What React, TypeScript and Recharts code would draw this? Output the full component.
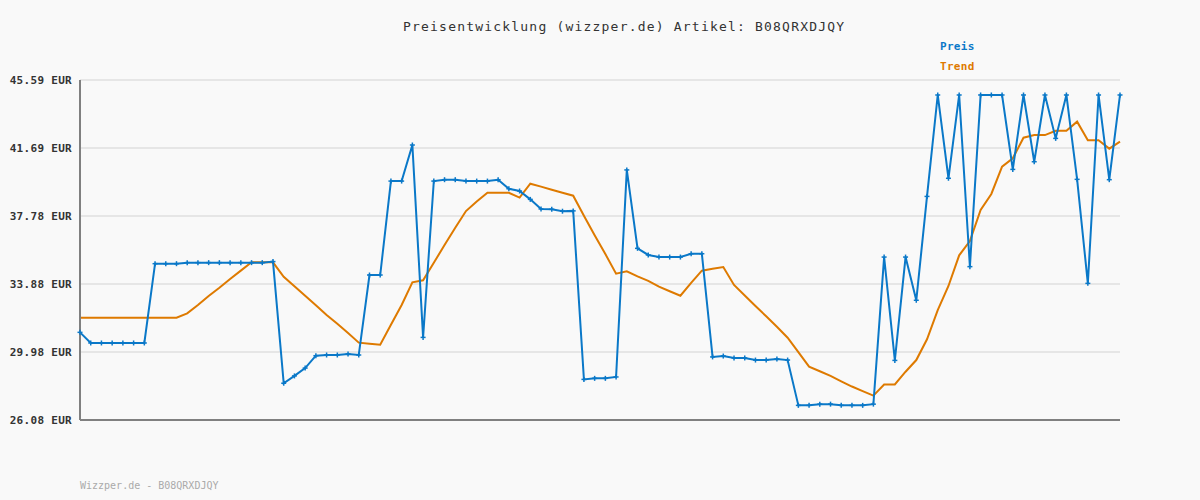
import { CartesianGrid, Line, LineChart, XAxis, YAxis } from "recharts"

const preis = [
  31.11, 30.5, 30.5, 30.5, 30.5, 30.5, 30.5, 35.05, 35.05, 35.05,
  35.11, 35.11, 35.11, 35.11, 35.11, 35.11, 35.11, 35.11, 35.17, 28.19,
  28.61, 29.06, 29.77, 29.81, 29.81, 29.87, 29.81, 34.4, 34.4, 39.79,
  39.79, 41.86, 30.82, 39.79, 39.87, 39.87, 39.79, 39.79, 39.79, 39.87,
  39.35, 39.22, 38.74, 38.19, 38.17, 38.06, 38.08, 28.41, 28.47, 28.47,
  28.55, 40.43, 35.93, 35.55, 35.43, 35.43, 35.43, 35.62, 35.62, 29.7,
  29.75, 29.64, 29.64, 29.52, 29.52, 29.58, 29.52, 26.92, 26.92, 26.99,
  26.99, 26.92, 26.92, 26.92, 26.99, 35.43, 29.5, 35.43, 32.95, 38.91,
  44.73, 39.95, 44.73, 34.88, 44.73, 44.73, 44.73, 40.46, 44.73, 40.9,
  44.73, 42.24, 44.73, 39.89, 33.92, 44.73, 39.87, 44.73,
]

const trend = [
  31.95, 31.95, 31.95, 31.95, 31.95, 31.95, 31.95, 31.95, 31.95, 31.95,
  32.2, 32.68, 33.2, 33.67, 34.17, 34.65, 35.13, 35.13, 35.13, 34.3,
  33.75, 33.21, 32.66, 32.11, 31.6, 31.07, 30.52, 30.46, 30.4, 31.55,
  32.68, 33.98, 34.1, 35.1, 36.12, 37.11, 38.07, 38.62, 39.12, 39.12,
  39.12, 38.84, 39.64, 39.47, 39.29, 39.12, 38.95, 37.8, 36.68, 35.6,
  34.48, 34.61, 34.32, 34.06, 33.73, 33.47, 33.21, 33.95, 34.65, 34.76,
  34.86, 33.83, 33.22, 32.62, 32.03, 31.43, 30.8, 29.97, 29.14, 28.88,
  28.61, 28.3, 28.0, 27.74, 27.48, 28.12, 28.12, 28.85, 29.52, 30.71,
  32.39, 33.77, 35.53, 36.35, 38.13, 39.05, 40.62, 41.1, 42.28, 42.43,
  42.43, 42.68, 42.68, 43.2, 42.13, 42.13, 41.65, 42.05,
]

const yTicks = [26.08, 29.98, 33.88, 37.78, 41.69, 45.59]

const data = preis.map((p, i) => ({ tag: i, preis: p, trend: trend[i] }))

const BLAU = "#0a78c8"
const ORANGE = "#de7a00"
const MONO = "'DejaVu Sans Mono', 'Liberation Mono', monospace"

function Plus(props: any) {
  const { cx, cy } = props
  if (cx == null || cy == null) return null
  return (
    <g>
      <line x1={cx - 2.5} y1={cy} x2={cx + 2.5} y2={cy} stroke={BLAU} strokeWidth={1.5} />
      <line x1={cx} y1={cy - 2.5} x2={cx} y2={cy + 2.5} stroke={BLAU} strokeWidth={1.5} />
    </g>
  )
}

export default function App() {
  return (
    <div style={{ position: "absolute", left: 0, top: 0, width: 1200, height: 500, background: "#f9f9f9" }}>
      <div
        style={{
          position: "absolute",
          left: 403,
          top: 19,
          fontFamily: MONO,
          fontSize: 13,
          letterSpacing: 1.2,
          color: "#333",
          whiteSpace: "nowrap",
        }}
      >
        Preisentwicklung (wizzper.de) Artikel: B08QRXDJQY
      </div>
      <div
        style={{
          position: "absolute",
          left: 940,
          top: 37,
          fontFamily: MONO,
          fontWeight: "bold",
          fontSize: 11,
          lineHeight: "20px",
          letterSpacing: 0.3,
        }}
      >
        <div style={{ color: BLAU }}>Preis</div>
        <div style={{ color: ORANGE }}>Trend</div>
      </div>
      <LineChart width={1200} height={500} data={data} margin={{ top: 80, right: 80, bottom: 79, left: 0 }}>
        <CartesianGrid vertical={false} stroke="#e6e6e6" strokeWidth={2} />
        <XAxis
          dataKey="tag"
          tick={false}
          tickLine={false}
          height={1}
          axisLine={{ stroke: "#808080", strokeWidth: 2 }}
        />
        <YAxis
          width={80}
          domain={[26.08, 45.59]}
          ticks={yTicks}
          interval={0}
          tickSize={0}
          tickMargin={8}
          tickLine={false}
          axisLine={{ stroke: "#808080", strokeWidth: 2 }}
          tickFormatter={(v: number) => `${v.toFixed(2)} EUR`}
          tick={{ fontFamily: MONO, fontWeight: "bold", fontSize: 11, fill: "#333", letterSpacing: 0.3 }}
        />
        <Line
          type="linear"
          dataKey="trend"
          stroke={ORANGE}
          strokeWidth={2}
          dot={false}
          isAnimationActive={false}
        />
        <Line
          type="linear"
          dataKey="preis"
          stroke={BLAU}
          strokeWidth={2}
          dot={<Plus />}
          isAnimationActive={false}
        />
      </LineChart>
      <div
        style={{
          position: "absolute",
          left: 80,
          top: 480,
          fontFamily: MONO,
          fontSize: 10,
          color: "#aaa",
          whiteSpace: "nowrap",
        }}
      >
        Wizzper.de - B08QRXDJQY
      </div>
    </div>
  )
}
